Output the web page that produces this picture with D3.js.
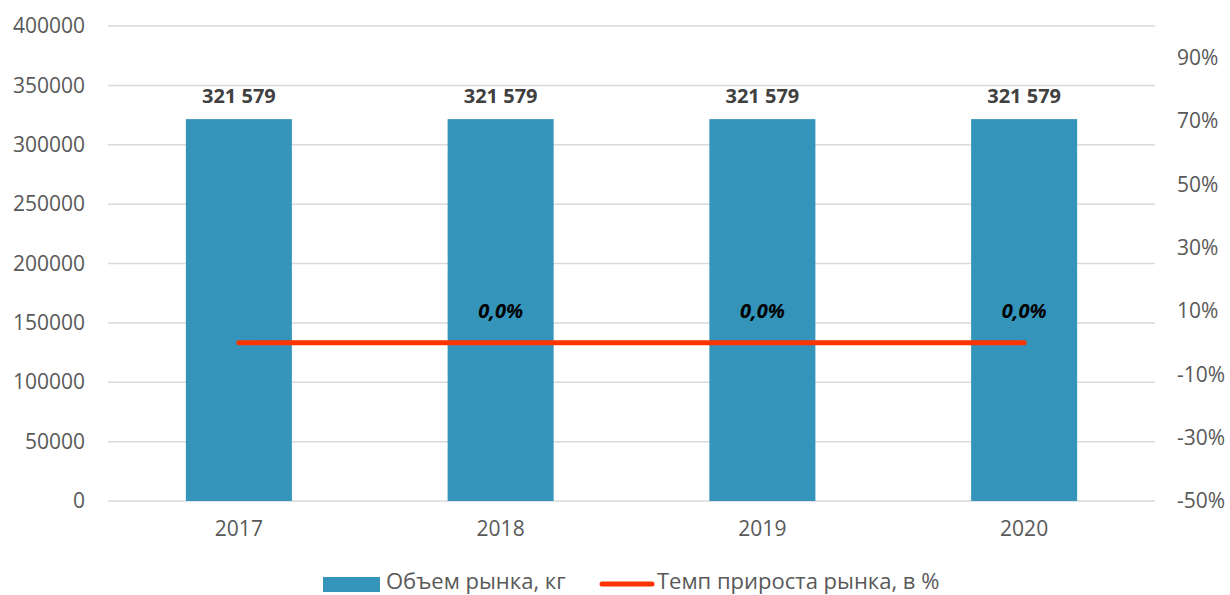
<!DOCTYPE html>
<html>
<head>
<meta charset="utf-8">
<script src="https://cdnjs.cloudflare.com/ajax/libs/d3/7.8.5/d3.min.js"></script>
<style>
  body { margin: 0; background: #fff; }
  text { font-family: "Open Sans", "Noto Sans", sans-serif; }
</style>
</head>
<body>
<div id="chart"></div>
<script>
var years = ["2017", "2018", "2019", "2020"];
var volume = [321579, 321579, 321579, 321579];     // Объем рынка, кг
var growth = [null, 0.0, 0.0, 0.0];                // Темп прироста рынка (доля)
var lineValues = [0.0, 0.0, 0.0, 0.0];             // линия рисуется от 2017
var leftTicks = [0, 50000, 100000, 150000, 200000, 250000, 300000, 350000, 400000];
var rightTicks = [-0.5, -0.3, -0.1, 0.1, 0.3, 0.5, 0.7, 0.9];

var width = 1230, height = 595;
var margin = {top: 26, right: 75, bottom: 94, left: 108};
var w = width - margin.left - margin.right,
    h = height - margin.top - margin.bottom;

var svg = d3.select("#chart").append("svg")
    .attr("width", width)
    .attr("height", height);

var g = svg.append("g")
    .attr("transform", "translate(" + margin.left + "," + margin.top + ")");

var x = d3.scaleBand().domain(years).range([0, w]).paddingInner(0.595).paddingOuter(0.2975);
var xc = d3.scalePoint().domain(years).range([0, w]).padding(0.5);
var y = d3.scaleLinear().domain([0, 400000]).range([h, 0]);
var y2 = d3.scaleLinear().domain([-0.5, 1.0]).range([h, 0]);

// grid
g.selectAll(".grid")
    .data(leftTicks)
    .enter().append("line")
    .attr("class", "grid")
    .attr("x1", 0)
    .attr("x2", w)
    .attr("y1", function(d) { return y(d); })
    .attr("y2", function(d) { return y(d); })
    .attr("stroke", "#d9d9d9")
    .attr("stroke-width", 1.5);

// left axis
var gy = g.append("g")
    .call(d3.axisLeft(y).tickValues(leftTicks).tickSize(0).tickPadding(23).tickFormat(d3.format("d")));
gy.select(".domain").remove();
gy.selectAll("text").attr("fill", "#595959").style("font-size", "21px");

// right axis
var gy2 = g.append("g")
    .attr("transform", "translate(" + w + ",0)")
    .call(d3.axisRight(y2).tickValues(rightTicks).tickSize(0).tickPadding(22)
      .tickFormat(function(d) { return Math.round(d * 100) + "%"; }));
gy2.select(".domain").remove();
gy2.selectAll("text").attr("fill", "#595959").style("font-size", "21px");

// x axis
var gx = g.append("g")
    .attr("transform", "translate(0," + h + ")")
    .call(d3.axisBottom(x).tickSize(0).tickPadding(20));
gx.select(".domain").remove();
gx.selectAll("text").attr("fill", "#595959").style("font-size", "21px");

// bars
g.selectAll(".bar")
    .data(volume)
    .enter().append("rect")
    .attr("class", "bar")
    .attr("x", function(d, i) { return x(years[i]); })
    .attr("width", x.bandwidth())
    .attr("y", function(d) { return y(d); })
    .attr("height", function(d) { return h - y(d); })
    .attr("fill", "#3494ba");

// bar labels
g.selectAll(".barLabel")
    .data(volume)
    .enter().append("text")
    .attr("class", "barLabel")
    .attr("x", function(d, i) { return xc(years[i]); })
    .attr("y", function(d) { return y(d) - 16; })
    .attr("text-anchor", "middle")
    .attr("fill", "#404040")
    .style("font-size", "20px")
    .style("font-weight", "bold")
    .text(function(d) { return d3.format(",")(d).replace(/,/g, " "); });

// growth line
var line = d3.line()
    .x(function(d, i) { return xc(years[i]); })
    .y(function(d) { return y2(d); });

g.append("path")
    .datum(lineValues)
    .attr("d", line)
    .attr("fill", "none")
    .attr("stroke", "#ff3300")
    .attr("stroke-width", 5)
    .attr("stroke-linecap", "round");

// growth labels (first year has no value)
g.selectAll(".growthLabel")
    .data(growth)
    .enter().append("text")
    .attr("class", "growthLabel")
    .attr("x", function(d, i) { return xc(years[i]); })
    .attr("y", function(d) { return y2(d || 0) - 25; })
    .attr("text-anchor", "middle")
    .attr("fill", "#000")
    .style("font-size", "20px")
    .style("font-weight", "bold")
    .style("font-style", "italic")
    .text(function(d) { return d === null ? "" : d3.format(".1f")(d * 100).replace(".", ",") + "%"; });

// legend
var legend = svg.append("g").attr("transform", "translate(323,574)");
legend.append("rect")
    .attr("x", 0).attr("y", 3)
    .attr("width", 57).attr("height", 15)
    .attr("fill", "#3494ba");
legend.append("text")
    .attr("x", 63).attr("y", 15)
    .attr("fill", "#595959")
    .style("font-size", "22px")
    .text("Объем рынка, кг");
legend.append("line")
    .attr("x1", 279).attr("x2", 329)
    .attr("y1", 10).attr("y2", 10)
    .attr("stroke", "#ff3300")
    .attr("stroke-width", 5)
    .attr("stroke-linecap", "round");
legend.append("text")
    .attr("x", 334).attr("y", 15)
    .attr("fill", "#595959")
    .style("font-size", "22px")
    .text("Темп прироста рынка, в %");
</script>
</body>
</html>
